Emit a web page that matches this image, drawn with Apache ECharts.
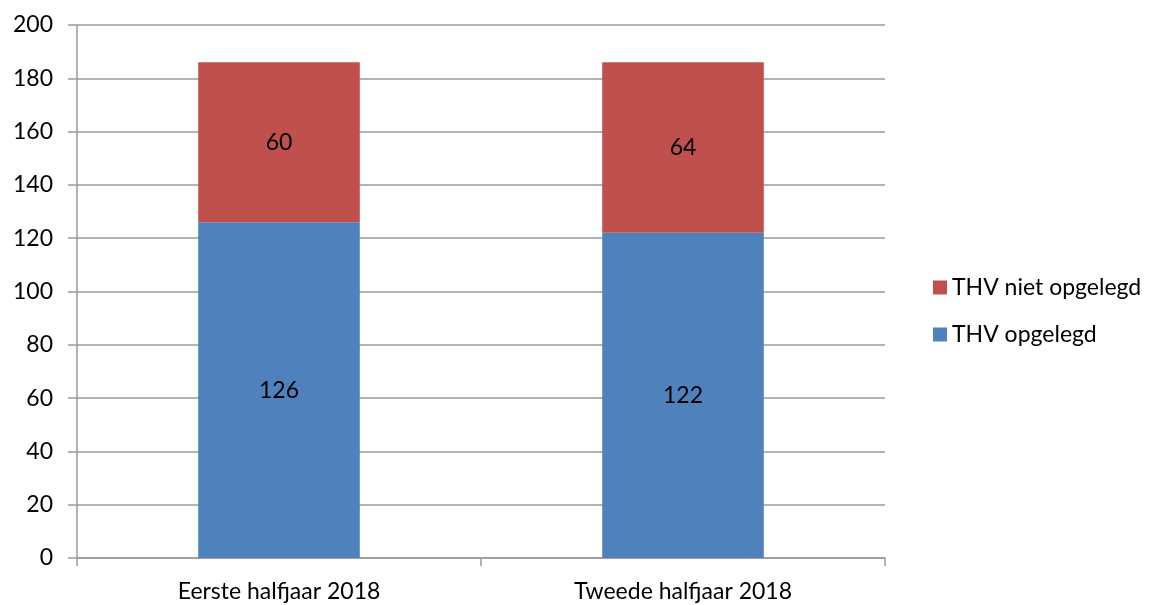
<!DOCTYPE html>
<html>
<head>
    <meta charset="utf-8">
    <style>
        body { margin: 0; background: #fff; }
        #main { width: 1149px; height: 605px; }
    </style>
    <script src="https://cdn.jsdelivr.net/npm/echarts@6/dist/echarts.min.js"></script>
</head>
<body>
    <div id="main"></div>
    <script type="text/javascript">
        var categories = ['Eerste halfjaar 2018', 'Tweede halfjaar 2018'];
        var opgelegd = [126, 122];
        var nietOpgelegd = [60, 64];

        var fontName = 'Lato, "Open Sans", sans-serif';
        var fontSize = 23;
        var gridColor = '#9a9a9a';

        var myChart = echarts.init(document.getElementById('main'));

        var option = {
            backgroundColor: '#fff',
            animation: false,
            textStyle: { fontFamily: fontName },
            grid: { left: 77, right: 264, top: 25, bottom: 47 },
            legend: {
                orient: 'vertical',
                left: 928,
                top: 271,
                itemWidth: 14,
                itemHeight: 14,
                itemGap: 24,
                icon: 'rect',
                data: ['THV niet opgelegd', 'THV opgelegd'],
                textStyle: { fontSize: fontSize, color: '#000', fontFamily: fontName }
            },
            xAxis: {
                type: 'category',
                data: categories,
                axisLine: { lineStyle: { color: gridColor, width: 1.5 } },
                axisTick: { show: true, length: 8, lineStyle: { color: gridColor, width: 1.5 } },
                axisLabel: { fontSize: fontSize, color: '#000', margin: 22, fontFamily: fontName }
            },
            yAxis: {
                type: 'value',
                min: 0,
                max: 200,
                interval: 20,
                axisLine: { show: true, lineStyle: { color: gridColor, width: 1.5 } },
                axisTick: { show: true, length: 9, lineStyle: { color: gridColor, width: 1.5 } },
                splitLine: { lineStyle: { color: gridColor, width: 1.5 } },
                axisLabel: { fontSize: fontSize, color: '#000', margin: 24, fontFamily: fontName }
            },
            series: [
                {
                    name: 'THV opgelegd',
                    type: 'bar',
                    stack: 'thv',
                    barWidth: '40%',
                    data: opgelegd,
                    itemStyle: { color: '#4f81bd' },
                    label: { show: true, position: 'inside', color: '#000', fontSize: fontSize, fontFamily: fontName }
                },
                {
                    name: 'THV niet opgelegd',
                    type: 'bar',
                    stack: 'thv',
                    barWidth: '40%',
                    data: nietOpgelegd,
                    itemStyle: { color: '#c0504d' },
                    label: { show: true, position: 'inside', color: '#000', fontSize: fontSize, fontFamily: fontName }
                }
            ]
        };

        myChart.setOption(option);
    </script>
</body>
</html>
